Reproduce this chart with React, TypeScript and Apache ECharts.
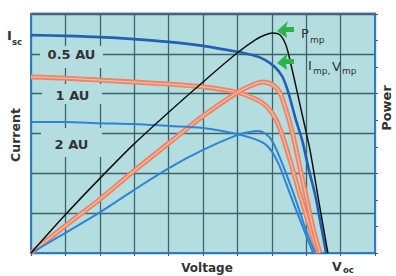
import React, { useEffect, useRef } from "react";
import * as echarts from "echarts";

// Voltage in grid units (0..10), current in left-axis units (0..6), power in right-axis units (0..9)
const V_IV_05 = [0, 0.99, 2.01, 2.99, 4.01, 5.0, 5.99, 6.51, 6.8, 7.09, 7.3, 7.44, 7.56, 7.7, 7.88, 8.08, 8.26, 8.4, 8.58];
const I_05 = [5.47, 5.45, 5.42, 5.37, 5.3, 5.2, 5.05, 4.95, 4.85, 4.67, 4.44, 4.14, 3.79, 3.34, 2.84, 2.08, 1.46, 0.83, 0];

const V_P_05 = [0, 0.99, 2.01, 2.99, 4.01, 5.0, 5.99, 6.51, 6.8, 7.03, 7.24, 7.41, 7.56, 7.79, 7.97, 8.11, 8.37, 8.63];
const P_05 = [0, 1.43, 2.82, 4.1, 5.31, 6.44, 7.53, 8.02, 8.21, 8.28, 8.21, 7.83, 7.08, 5.76, 4.71, 3.88, 1.92, 0];

const V_IV_1 = [0, 0.99, 2.01, 2.99, 4.01, 5.0, 5.99, 6.51, 6.8, 7.01, 7.18, 7.33, 7.53, 7.76, 7.99, 8.17, 8.34];
const I_1 = [4.42, 4.39, 4.34, 4.29, 4.24, 4.17, 4.04, 3.87, 3.72, 3.51, 3.24, 2.89, 2.33, 1.63, 0.98, 0.45, 0];

const V_P_1 = [0, 0.99, 2.01, 2.99, 4.01, 5.0, 6.02, 6.37, 6.74, 7.03, 7.24, 7.44, 7.62, 7.82, 8.02, 8.2, 8.4];
const P_1 = [0, 1.02, 2.03, 3.09, 4.14, 5.16, 6.06, 6.29, 6.44, 6.33, 6.02, 5.27, 4.41, 3.2, 2.0, 0.94, 0];

const V_IV_2 = [0, 0.99, 2.01, 2.99, 4.01, 5.0, 5.99, 6.51, 6.8, 7.01, 7.21, 7.41, 7.65, 7.91, 8.2];
const I_2 = [3.29, 3.29, 3.26, 3.24, 3.19, 3.14, 2.99, 2.86, 2.74, 2.54, 2.21, 1.76, 1.21, 0.63, 0];

const V_P_2 = [0, 0.99, 2.01, 2.99, 4.01, 5.0, 5.99, 6.37, 6.6, 6.83, 7.03, 7.33, 7.73, 7.99, 8.26];
const P_2 = [0, 0.75, 1.54, 2.37, 3.2, 3.88, 4.44, 4.56, 4.59, 4.48, 4.18, 3.28, 1.88, 0.87, 0];

const CURVE_LABELS = ["0.5 AU", "1 AU", "2 AU"];

const zip = (xs: number[], ys: number[]) => xs.map((x, i) => [x, ys[i]]);

const PLOT_BG = "#b4dde0";
const GRID_C = "#3a666b";
const BORDER = "#2b7bc6";
const FONT = "DejaVu Sans, Liberation Sans, Arial, sans-serif";
const TXT = "#333333";
const GREEN = "#2db24c";

function text(x: number, y: number, s: string, size: number, opts: any = {}) {
  return {
    type: "text",
    x,
    y,
    z: 5,
    rotation: opts.rotation || 0,
    style: {
      text: s,
      fill: opts.fill || TXT,
      fontFamily: FONT,
      fontSize: size,
      fontWeight: opts.weight || "bold",
      align: opts.align || "left",
      verticalAlign: opts.va || "top",
      textAlign: opts.align || "left",
      textVerticalAlign: opts.va || "top",
    },
  };
}

function labelBox(x: number, y: number, w: number, h: number, cx: number, cy: number, s: string) {
  return [
    { type: "rect", z: 1, shape: { x, y, width: w, height: h }, style: { fill: PLOT_BG } },
    text(cx, cy, s, 13, { align: "center", va: "middle" }),
  ];
}

function arrow(tx: number, ty: number) {
  const p = [
    [0, 0],
    [11, -10],
    [9, -4],
    [17, -4],
    [17, 1],
    [9, 1],
    [10, 7],
  ].map(([a, b]) => [tx + a, ty + b]);
  return { type: "polygon", z: 5, shape: { points: p }, style: { fill: GREEN } };
}

export default function App() {
  const ref = useRef<HTMLDivElement>(null);
  useEffect(() => {
    if (!ref.current) return;
    const chart = echarts.init(ref.current, undefined, { renderer: "svg" });
    const line = (data: number[][], color: string, width: number, yIdx: number, z = 2) => ({
      type: "line",
      data,
      yAxisIndex: yIdx,
      showSymbol: false,
      smooth: 0.3,
      z,
      lineStyle: { color, width },
      silent: true,
    });
    chart.setOption({
      animation: false,
      grid: {
        left: 31,
        right: 21,
        top: 14,
        bottom: 23,
        show: true,
        backgroundColor: PLOT_BG,
        borderColor: BORDER,
        borderWidth: 2,
      },
      xAxis: {
        type: "value",
        min: 0,
        max: 10,
        interval: 1,
        axisLine: { show: true, onZero: false, lineStyle: { color: BORDER, width: 2 } },
        axisTick: { show: true, length: 3, lineStyle: { color: "#555" } },
        axisLabel: { show: false },
        splitLine: { show: true, lineStyle: { color: GRID_C, width: 1.3 } },
      },
      yAxis: [
        {
          type: "value",
          min: 0,
          max: 6,
          interval: 1,
          axisLine: { show: true, lineStyle: { color: BORDER, width: 2 } },
          axisTick: { show: false },
          axisLabel: { show: false },
          splitLine: { show: true, lineStyle: { color: GRID_C, width: 1.3 } },
        },
        {
          type: "value",
          position: "right",
          min: 0,
          max: 9,
          interval: 1,
          axisLine: { show: true, lineStyle: { color: BORDER, width: 2 } },
          axisTick: { show: true, length: 3, lineStyle: { color: "#555" } },
          axisLabel: { show: false },
          splitLine: { show: false },
        },
      ],
      series: [
        line(zip(V_IV_1, I_1), "#ee8466", 5, 0, 2),
        line(zip(V_IV_1, I_1), "#f5bba6", 1.3, 0, 2),
        line(zip(V_P_1, P_1), "#ee8466", 5, 1, 2),
        line(zip(V_P_1, P_1), "#f5bba6", 1.3, 1, 2),
        line(zip(V_IV_2, I_2), "#2e84d6", 2, 0, 3),
        line(zip(V_P_2, P_2), "#2e84d6", 2, 1, 3),
        line(zip(V_IV_05, I_05), "#2160b4", 2.6, 0, 3),
        line(zip(V_P_05, P_05), "#111111", 1.5, 1, 4),
      ],
      graphic: [
        { type: "line", z: 5, shape: { x1: 31, y1: 12.5, x2: 376, y2: 12.5 }, style: { stroke: "#e4a3c4", lineWidth: 1 } },
        ...labelBox(40, 46, 63, 22, 71.5, 54.5, CURVE_LABELS[0]),
        ...labelBox(42, 84, 60, 20, 72.5, 95.5, CURVE_LABELS[1]),
        ...labelBox(41, 128, 61, 29, 71.5, 144, CURVE_LABELS[2]),
        text(7, 29, "I", 13),
        text(12, 37, "sc", 8.5),
        text(15, 135, "Current", 12.5, { align: "center", va: "middle", rotation: Math.PI / 2 }),
        text(386, 108, "Power", 13, { align: "center", va: "middle", rotation: Math.PI / 2 }),
        text(207, 262, "Voltage", 12, { align: "center" }),
        text(332, 260, "V", 12.5),
        text(343, 265, "oc", 8.5),
        text(301, 27, "P", 13, { weight: "normal" }),
        text(310, 35, "mp", 9, { weight: "normal" }),
        text(308, 59, "I", 13, { weight: "normal" }),
        text(313, 66, "mp,", 9, { weight: "normal" }),
        text(332, 60, "V", 13, { weight: "normal" }),
        text(342, 66, "mp", 9, { weight: "normal" }),
        arrow(277, 31),
        arrow(277, 63),
      ],
    });
    return () => chart.dispose();
  }, []);
  return <div ref={ref} style={{ position: "absolute", left: 0, top: 0, width: 396, height: 276 }} />;
}
